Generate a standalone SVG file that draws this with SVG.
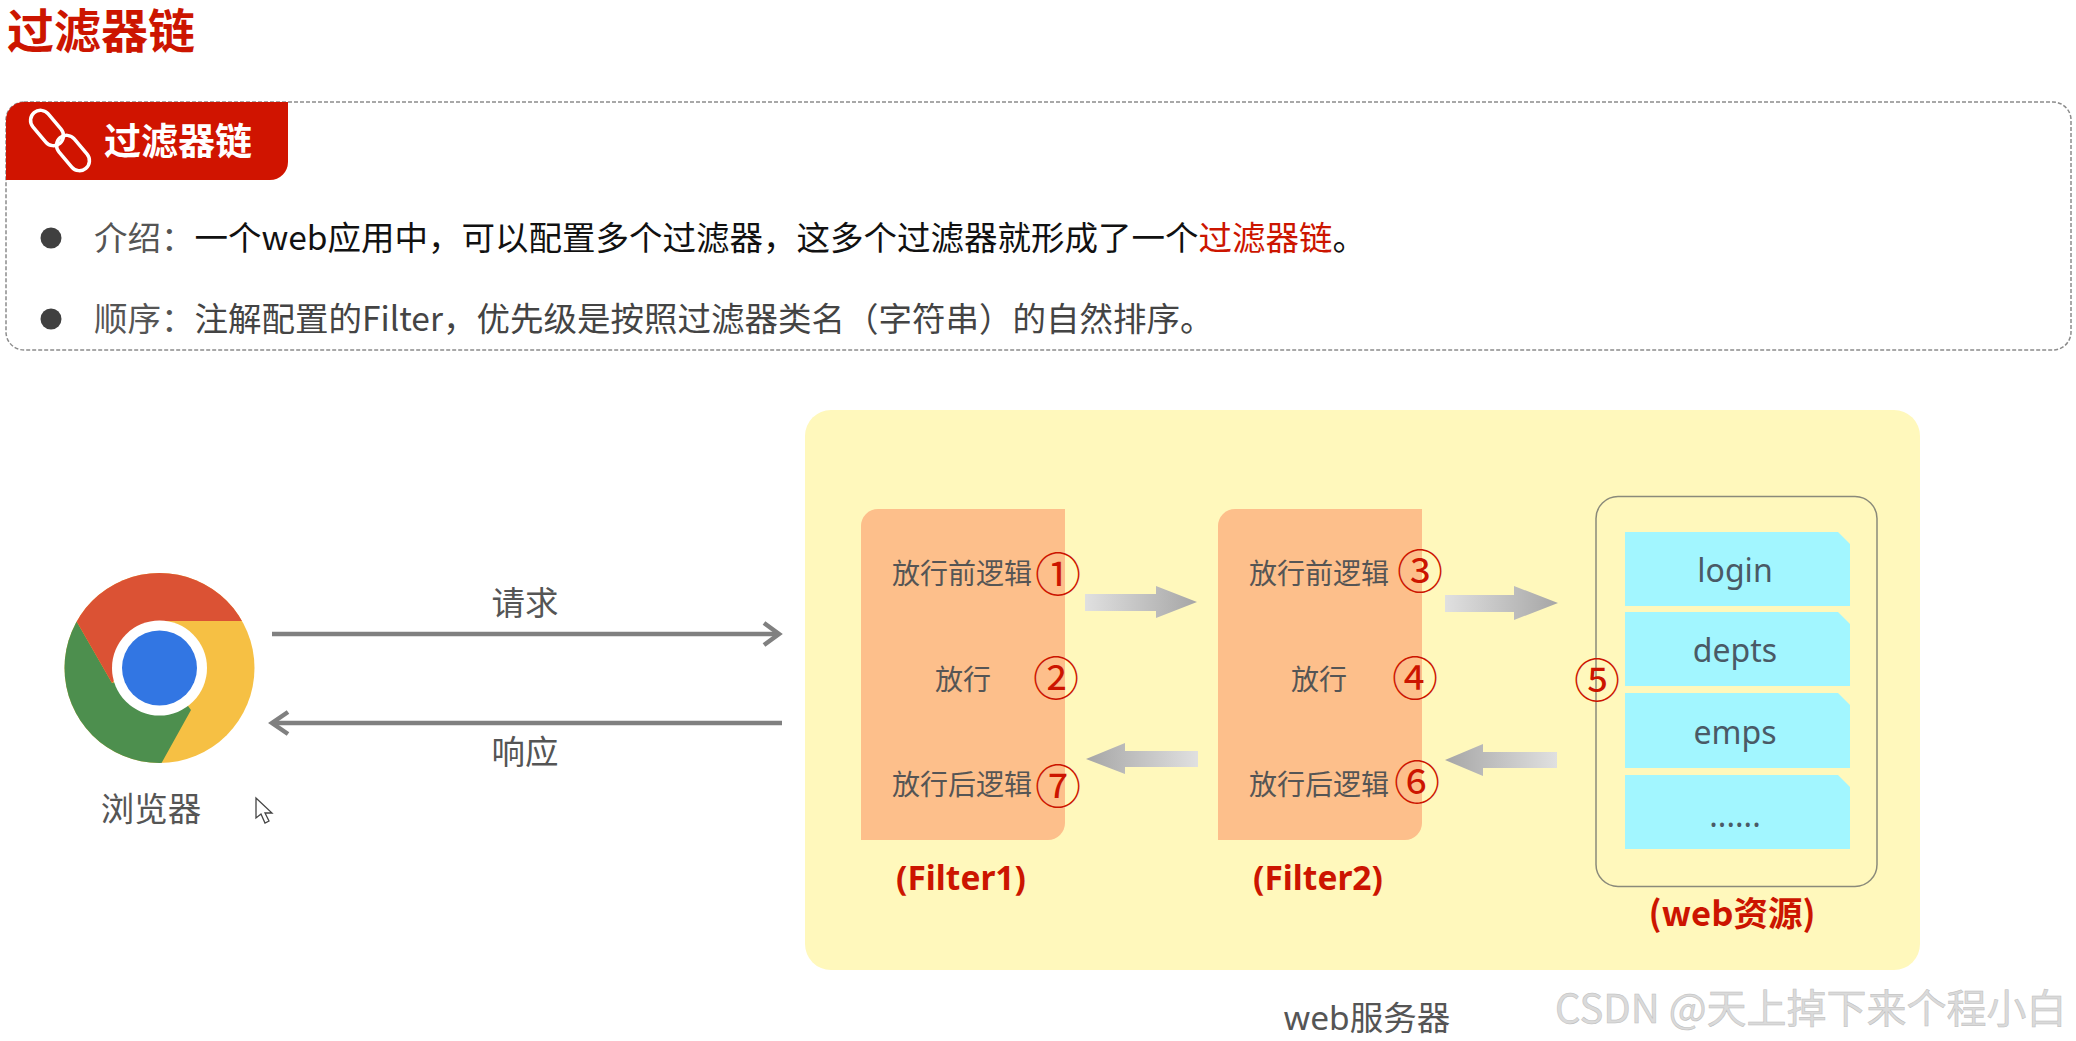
<svg xmlns="http://www.w3.org/2000/svg" width="2076" height="1041" viewBox="0 0 2076 1041">
<style>
text{font-family:"Noto Sans CJK SC","Noto Sans",sans-serif}
.latin{font-family:"Noto Sans","Noto Sans CJK SC",sans-serif}
.r{fill:#CC1500;font-weight:700;text-anchor:middle;font-size:33.500px}
.g{fill:#555;font-size:28px;text-anchor:middle}
.n{fill:#CC1500;font-size:46px;text-anchor:middle}
.c{fill:#A2F6FF}
.t{fill:#4A5A66;font-size:32px;text-anchor:middle}
.b{fill:#555;font-size:33.500px;text-anchor:middle}
.line{fill:none;stroke:#808080;stroke-width:4.5}
</style>
<defs>
<linearGradient id="ar" x1="0" x2="1" y1="0" y2="0"><stop offset="0" stop-color="#E0E0E0"/><stop offset="1" stop-color="#A6A6A6"/></linearGradient>
<linearGradient id="al" x1="0" x2="1" y1="0" y2="0"><stop offset="0" stop-color="#A6A6A6"/><stop offset="1" stop-color="#E0E0E0"/></linearGradient>
<clipPath id="logo"><circle cx="159.500" cy="668" r="95"/></clipPath>
</defs>
<rect width="2076" height="1041" fill="#fff"/>
<g id="title"><text x="7" y="48" font-size="47" font-weight="700" fill="#CC1500" style="font-family:'Liberation Sans','Noto Sans CJK SC',sans-serif">过滤器链</text></g>
<g id="intro">
<rect x="6" y="102" width="2065" height="248" rx="18" fill="none" stroke="#8C8C8C" stroke-width="1.500" stroke-dasharray="4 2"/>
<path d="M6 180V120a18 18 0 0 1 18-18H288V162a18 18 0 0 1-18 18Z" fill="#D01400"/>
<g fill="none" stroke="#fff" stroke-width="3.500">
<rect x="27" y="118" width="40" height="20" rx="10" transform="rotate(50 47 128)"/>
<rect x="53" y="143" width="40" height="20" rx="10" transform="rotate(50 73 153)"/>
</g>
<text x="104" y="155" font-size="37" font-weight="700" fill="#fff">过滤器链</text>
<circle cx="51" cy="238" r="10.500" fill="#404040"/>
<circle cx="51" cy="319" r="10.500" fill="#404040"/>
<text x="94" y="250" font-size="33.500" fill="#111"><tspan fill="#555">介绍&#xFF1A;</tspan>一个web应用中&#xFF0C;可以配置多个过滤器&#xFF0C;这多个过滤器就形成了一个<tspan fill="#CC1500">过滤器链</tspan>&#x3002;</text>
<text x="94" y="331" font-size="33.500" fill="#444"><tspan fill="#555">顺序&#xFF1A;</tspan>注解配置的Filter&#xFF0C;优先级是按照过滤器类名&#xFF08;字符串&#xFF09;的自然排序&#x3002;</text>
</g>
<g id="browser">
<g clip-path="url(#logo)">
<rect x="60" y="570" width="200" height="200" fill="#F6C044"/>
<path d="M50 575L112 683 160 668 191 710 161 764V780H50Z" fill="#4D8F4E"/>
<path d="M50 575L112 683 125 668 160 621H240L262 621V560H50Z" fill="#DB5234"/>
</g>
<circle cx="159.500" cy="668" r="47.500" fill="#fff"/>
<circle cx="159.500" cy="668" r="37.500" fill="#3276E3"/>
<text class="b" x="151" y="821">浏览器</text>
</g>
<g id="cursor"><path d="M256 798V818L261 814 265 823 269 821 265 813 272 813Z" fill="#fff" stroke="#444" stroke-width="1.300"/></g>
<g id="web-server">
<rect x="805" y="410" width="1115" height="560" rx="26" fill="#FFF8BC"/>
<text class="b latin" x="1367" y="1030">web服务器</text>
</g>
<g id="filter1">
<path d="M861 840V526a17 17 0 0 1 17-17H1065V823a17 17 0 0 1-17 17Z" fill="#FDBF8B"/>
<text class="g" x="962" y="584">放行前逻辑</text>
<text class="g" x="963" y="690">放行</text>
<text class="g" x="962" y="795">放行后逻辑</text>
<text class="n" x="1058" y="591">①</text>
<text class="n" x="1056" y="695">②</text>
<text class="n" x="1058" y="803">⑦</text>
<text class="r latin" x="961" y="890">(Filter1)</text>
</g>
<g id="filter2">
<path d="M1218 840V526a17 17 0 0 1 17-17H1422V823a17 17 0 0 1-17 17Z" fill="#FDBF8B"/>
<text class="g" x="1319" y="584">放行前逻辑</text>
<text class="g" x="1319" y="690">放行</text>
<text class="g" x="1319" y="795">放行后逻辑</text>
<text class="n" x="1420" y="588">③</text>
<text class="n" x="1415" y="695">④</text>
<text class="n" x="1417" y="799">⑥</text>
<text class="r latin" x="1318" y="890">(Filter2)</text>
</g>
<g id="web-resources">
<rect x="1596" y="496.500" width="281" height="390" rx="22" fill="none" stroke="#8A8A7A" stroke-width="1.500"/>
<path class="c" d="M1625 532H1838L1850 544V606H1625Z"/>
<path class="c" d="M1625 612H1838L1850 624V686H1625Z"/>
<path class="c" d="M1625 693H1838L1850 705V768H1625Z"/>
<path class="c" d="M1625 775H1838L1850 787V849H1625Z"/>
<text class="t latin" x="1735" y="582">login</text>
<text class="t latin" x="1735" y="662">depts</text>
<text class="t latin" x="1735" y="744">emps</text>
<text class="t latin" x="1735" y="827">......</text>
<text class="n" x="1597" y="697">⑤</text>
<text class="r" x="1732" y="926" style="font-size:34.500px">(web资源)</text>
</g>
<g id="connectors">
<path class="line" d="M272 634H778"/><path class="line" d="M764 623L779 634 764 645"/>
<path class="line" d="M782 723H272"/><path class="line" d="M288 712L272 723 288 734"/>
<path d="M1085 594H1156V586L1197 602 1156 618V611H1085Z" fill="url(#ar)"/>
<path d="M1445 595H1514V586L1558 603 1514 620V612H1445Z" fill="url(#ar)"/>
<path d="M1198 751H1125V743L1086 759 1125 774V767H1198Z" fill="url(#al)"/>
<path d="M1557 752H1483V744L1445 760 1483 776V768H1557Z" fill="url(#al)"/>
</g>
<g id="connector-labels">
<text class="b" x="525" y="615">请求</text>
<text class="b" x="525" y="764">响应</text>
</g>
<g id="watermark"><text x="1555" y="1023" font-size="40" fill="#DADADA" stroke="#BDBDBD" stroke-width="0.500">CSDN @天上掉下来个程小白</text></g>
</svg>
